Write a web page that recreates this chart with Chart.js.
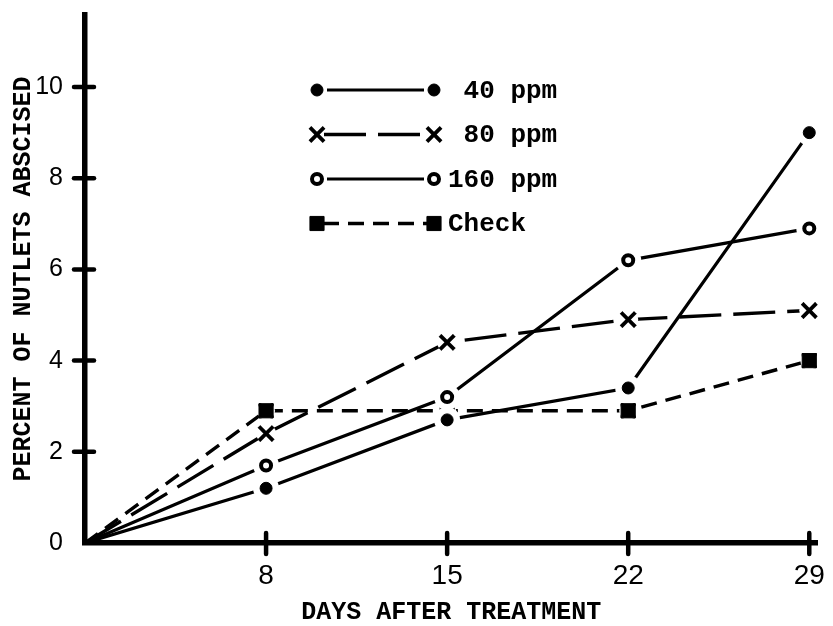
<!DOCTYPE html>
<html>
<head>
<meta charset="utf-8">
<title>Percent of nutlets abscised</title>
<script src="https://cdn.jsdelivr.net/npm/chart.js@4/dist/chart.umd.min.js"></script>
<style>
  html, body { margin: 0; padding: 0; background: #fff; }
  #wrap { width: 833px; height: 626px; }
</style>
</head>
<body>
<div id="wrap"><canvas id="c" width="833" height="626"></canvas></div>
<script>
// Days after treatment (evenly spaced along the axis)
const days = ['0', '8', '15', '22', '29'];

// Percent of nutlets abscised for each treatment
const ppm40  = [0, 1.2, 2.7, 3.4, 9.0];
const ppm80  = [0, 2.4, 4.4, 4.9, 5.1];
const ppm160 = [0, 1.7, 3.2, 6.2, 6.9];
const check  = [0, 2.9, 2.9, 2.9, 4.0];

const seriesNames = ['40 ppm', '80 ppm', '160 ppm', 'Check'];
const yStep = 2;

const MONO = '"Liberation Mono", "DejaVu Sans Mono", monospace';
const NUM = '"Liberation Sans", Arial, sans-serif';

const toPoints = vals => vals.map((v, i) => ({ x: i, y: v }));
const hideOrigin = r => ctx => (ctx.dataIndex === 0 ? 0 : r);

const datasets = [
  {
    label: seriesNames[0], data: toPoints(ppm40),
    borderColor: '#000', borderWidth: 3.2, borderDash: [],
    pointStyle: 'circle', pointRadius: hideOrigin(6),
    pointBackgroundColor: '#000', pointBorderColor: '#000', pointBorderWidth: 1,
    haloRadius: 13, legendIndent: 1
  },
  {
    label: seriesNames[1], data: toPoints(ppm80),
    borderColor: '#000', borderWidth: 3.4, borderDash: [42, 12],
    pointStyle: 'crossRot', pointRadius: hideOrigin(10),
    pointBackgroundColor: '#000', pointBorderColor: '#000', pointBorderWidth: 3.8,
    haloRadius: 10, legendIndent: 1
  },
  {
    label: seriesNames[2], data: toPoints(ppm160),
    borderColor: '#000', borderWidth: 3.2, borderDash: [],
    pointStyle: 'circle', pointRadius: hideOrigin(5),
    pointBackgroundColor: '#fff', pointBorderColor: '#000', pointBorderWidth: 4,
    haloRadius: 13, legendIndent: 0
  },
  {
    label: seriesNames[3], data: toPoints(check),
    borderColor: '#000', borderWidth: 3.4, borderDash: [16, 9],
    pointStyle: 'rect', pointRadius: hideOrigin(10),
    pointBackgroundColor: '#000', pointBorderColor: '#000', pointBorderWidth: 1,
    haloRadius: 9, legendIndent: 0
  }
];
datasets.forEach(d => { d.fill = false; d.tension = 0; d.borderCapStyle = 'butt'; });

// White gap round every marker; the top dataset is handled last so its
// markers stay in front
const markerHalo = {
  id: 'markerHalo',
  afterDraw(chart) {
    const ctx = chart.ctx;
    ctx.save();
    for (let i = chart.data.datasets.length - 1; i >= 0; i--) {
      const ds = chart.data.datasets[i];
      const pts = chart.getDatasetMeta(i).data;
      ctx.fillStyle = '#fff';
      pts.forEach(pt => {
        if (!pt.options || !(pt.options.radius > 0.1)) return;
        ctx.beginPath();
        ctx.arc(pt.x, pt.y, ds.haloRadius, 0, Math.PI * 2);
        ctx.fill();
      });
      pts.forEach(pt => pt.draw(ctx, chart.chartArea));
    }
    ctx.restore();
  }
};

// Tick marks that cross the axis lines
const crossTicks = {
  id: 'crossTicks',
  afterDraw(chart) {
    const { ctx, scales: { x, y } } = chart;
    ctx.save();
    ctx.strokeStyle = '#000';
    ctx.lineCap = 'round';
    ctx.lineWidth = 4.5;
    y.ticks.forEach(t => {
      if (t.value === 0) return;
      const py = y.getPixelForValue(t.value);
      ctx.beginPath();
      ctx.moveTo(x.left - 11, py);
      ctx.lineTo(x.left + 9, py);
      ctx.stroke();
    });
    x.ticks.forEach(t => {
      if (t.value === 0) return;
      const px = x.getPixelForValue(t.value);
      ctx.beginPath();
      ctx.moveTo(px, y.bottom - 10);
      ctx.lineTo(px, y.bottom + 11);
      ctx.stroke();
    });
    ctx.restore();
  }
};

// Key: marker, line, marker, then the name
const keyRows = {
  id: 'keyRows',
  afterDraw(chart) {
    const o = chart.options.plugins.keyRows;
    const ctx = chart.ctx;
    const drawPoint = Chart.helpers && Chart.helpers.drawPoint;
    ctx.save();
    ctx.font = 'bold ' + o.fontSize + 'px ' + MONO;
    const charW = ctx.measureText('0').width;
    chart.data.datasets.forEach((ds, i) => {
      const meta = chart.getDatasetMeta(i);
      const p = meta.data[1].options;
      const y = o.top + i * o.rowGap;
      const gap = ds.haloRadius - 3;
      ctx.strokeStyle = ds.borderColor;
      ctx.lineWidth = ds.borderWidth;
      ctx.lineCap = 'butt';
      ctx.setLineDash(ds.borderDash || []);
      ctx.beginPath();
      ctx.moveTo(o.x0 + gap, y);
      ctx.lineTo(o.x1 - gap, y);
      ctx.stroke();
      ctx.setLineDash([]);
      [o.x0, o.x1].forEach(px => {
        ctx.fillStyle = p.backgroundColor;
        ctx.strokeStyle = p.borderColor;
        ctx.lineWidth = p.borderWidth;
        if (drawPoint) {
          drawPoint(ctx, { pointStyle: p.pointStyle, rotation: 0, radius: p.radius, borderWidth: p.borderWidth }, px, y);
        } else {
          ctx.beginPath(); ctx.arc(px, y, p.radius, 0, Math.PI * 2); ctx.fill(); ctx.stroke();
        }
      });
      ctx.fillStyle = '#000';
      ctx.textAlign = 'left';
      ctx.textBaseline = 'middle';
      ctx.fillText(ds.label, o.textX + ds.legendIndent * charW, y + 1);
    });
    ctx.restore();
  }
};

new Chart(document.getElementById('c'), {
  type: 'line',
  data: { datasets },
  plugins: [markerHalo, crossTicks, keyRows],
  options: {
    responsive: false,
    animation: false,
    events: [],
    layout: { padding: { top: 15, right: 0, left: 0, bottom: 0 } },
    plugins: {
      legend: { display: false },
      tooltip: { enabled: false },
      keyRows: { x0: 317, x1: 434, textX: 448, top: 90, rowGap: 44.5, fontSize: 26 }
    },
    scales: {
      x: {
        type: 'linear', min: 0, max: 4.045,
        afterFit: s => { s.height = 83; },
        grid: { display: false },
        border: { display: true, width: 5.5, color: '#000' },
        ticks: {
          stepSize: 1, includeBounds: false, autoSkip: false, maxRotation: 0,
          padding: 8, color: '#000',
          font: { family: NUM, size: 28 },
          callback: v => (v > 0 && Number.isInteger(v) ? days[v] : '')
        },
        title: {
          display: true, text: 'DAYS AFTER TREATMENT', color: '#000',
          font: { family: MONO, size: 25, weight: 'bold', lineHeight: 1 },
          padding: { top: 0, bottom: 1 }
        }
      },
      y: {
        min: 0, max: 11.58,
        afterFit: s => { s.width = 85; s.paddingTop = 0; s.paddingBottom = 0; },
        grid: { display: false },
        border: { display: true, width: 5.5, color: '#000' },
        ticks: {
          stepSize: yStep, includeBounds: false, padding: 14, color: '#000',
          font: { family: NUM, size: 25 }
        },
        title: {
          display: true, text: 'PERCENT OF NUTLETS ABSCISED', color: '#000',
          font: { family: MONO, size: 25, weight: 'bold', lineHeight: 1 },
          padding: { top: 11.5, bottom: 0 }
        }
      }
    }
  }
});
</script>
</body>
</html>
